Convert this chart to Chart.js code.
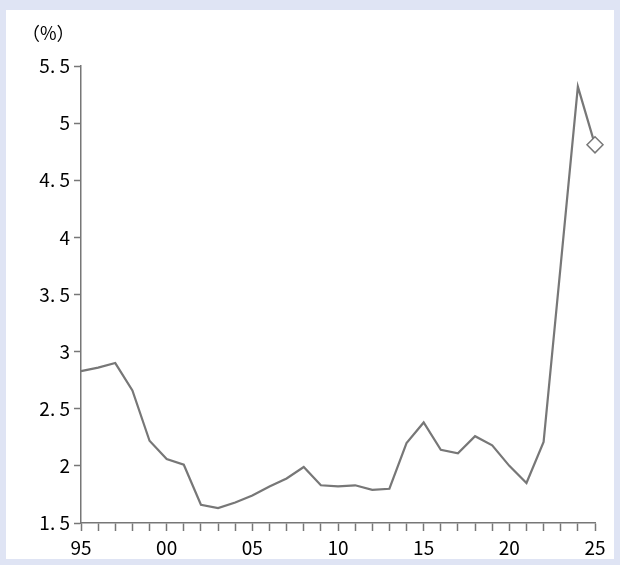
<!DOCTYPE html>
<html>
<head>
<meta charset="utf-8">
<script src="https://cdn.jsdelivr.net/npm/chart.js@4"></script>
<style>
  body { margin: 0; background: #dfe4f4; }
  #box { position: absolute; left: 6px; top: 10px; width: 608px; height: 549px; background: #fff; }
  #wrap { position: absolute; left: 0; top: 0; width: 620px; height: 565px; }
</style>
</head>
<body>
<div id="box"></div>
<div id="wrap"><canvas id="chart" width="620" height="565"></canvas></div>
<script>
const years = [1995, 1996, 1997, 1998, 1999, 2000, 2001, 2002, 2003, 2004, 2005, 2006, 2007, 2008, 2009, 2010,
    2011, 2012, 2013, 2014, 2015, 2016, 2017, 2018, 2019, 2020, 2021, 2022, 2023, 2024, 2025];
const rates = [2.83, 2.86, 2.90, 2.66, 2.22, 2.06, 2.01, 1.66, 1.63, 1.68, 1.74, 1.82, 1.89, 1.99, 1.83, 1.82,
    1.83, 1.79, 1.80, 2.20, 2.38, 2.14, 2.11, 2.26, 2.18, 2.00, 1.85, 2.21, 3.76, 5.32, 4.81];
const yTickLabels = { 1.5: '1. 5', 2: '2', 2.5: '2. 5', 3: '3', 3.5: '3. 5', 4: '4', 4.5: '4. 5', 5: '5', 5.5: '5. 5' };
const unitLabel = '（%）';

const font = { family: '"Noto Sans CJK JP", "DejaVu Sans", sans-serif', size: 19 };
const last = rates.length - 1;

const unitPlugin = {
    id: 'unit',
    afterDraw(chart) {
        const ctx = chart.ctx;
        ctx.save();
        ctx.font = '18px ' + font.family;
        ctx.fillStyle = '#000';
        ctx.textBaseline = 'middle';
        ctx.fillText(unitLabel, 22, 33);
        ctx.restore();
    }
};

new Chart(document.getElementById('chart'), {
    type: 'line',
    data: {
        datasets: [{
            data: years.map((y, i) => ({ x: y, y: rates[i] })),
            borderColor: '#777',
            borderWidth: 2.2,
            tension: 0,
            clip: false,
            pointStyle: rates.map((v, i) => i === last ? 'rectRot' : 'circle'),
            pointRadius: rates.map((v, i) => i === last ? 8 : 0),
            pointBackgroundColor: '#fff',
            pointBorderColor: '#777',
            pointBorderWidth: 1.5
        }]
    },
    options: {
        responsive: false,
        animation: false,
        layout: { padding: { top: 66, right: 25, left: 0, bottom: 0 } },
        plugins: { legend: { display: false }, tooltip: { enabled: false } },
        scales: {
            x: {
                type: 'linear',
                min: 1995,
                max: 2025,
                afterFit: s => { s.height = 42; },
                grid: { drawOnChartArea: false, drawTicks: true, tickLength: 8, tickColor: '#777', tickWidth: 1.5 },
                border: { color: '#777', width: 1.5 },
                ticks: {
                    stepSize: 1,
                    autoSkip: false,
                    maxRotation: 0,
                    padding: 5,
                    color: '#000',
                    font: font,
                    callback: v => v % 5 === 0 ? String(v % 100).padStart(2, '0') : ''
                }
            },
            y: {
                min: 1.5,
                max: 5.5,
                afterFit: s => { s.width = 81; },
                grid: { drawOnChartArea: false, drawTicks: true, tickLength: 7, tickColor: '#777', tickWidth: 1.5 },
                border: { color: '#777', width: 1.5 },
                ticks: {
                    stepSize: 0.5,
                    padding: 4,
                    color: '#000',
                    font: font,
                    callback: v => yTickLabels[v] || ''
                }
            }
        }
    },
    plugins: [unitPlugin]
});
</script>
</body>
</html>
